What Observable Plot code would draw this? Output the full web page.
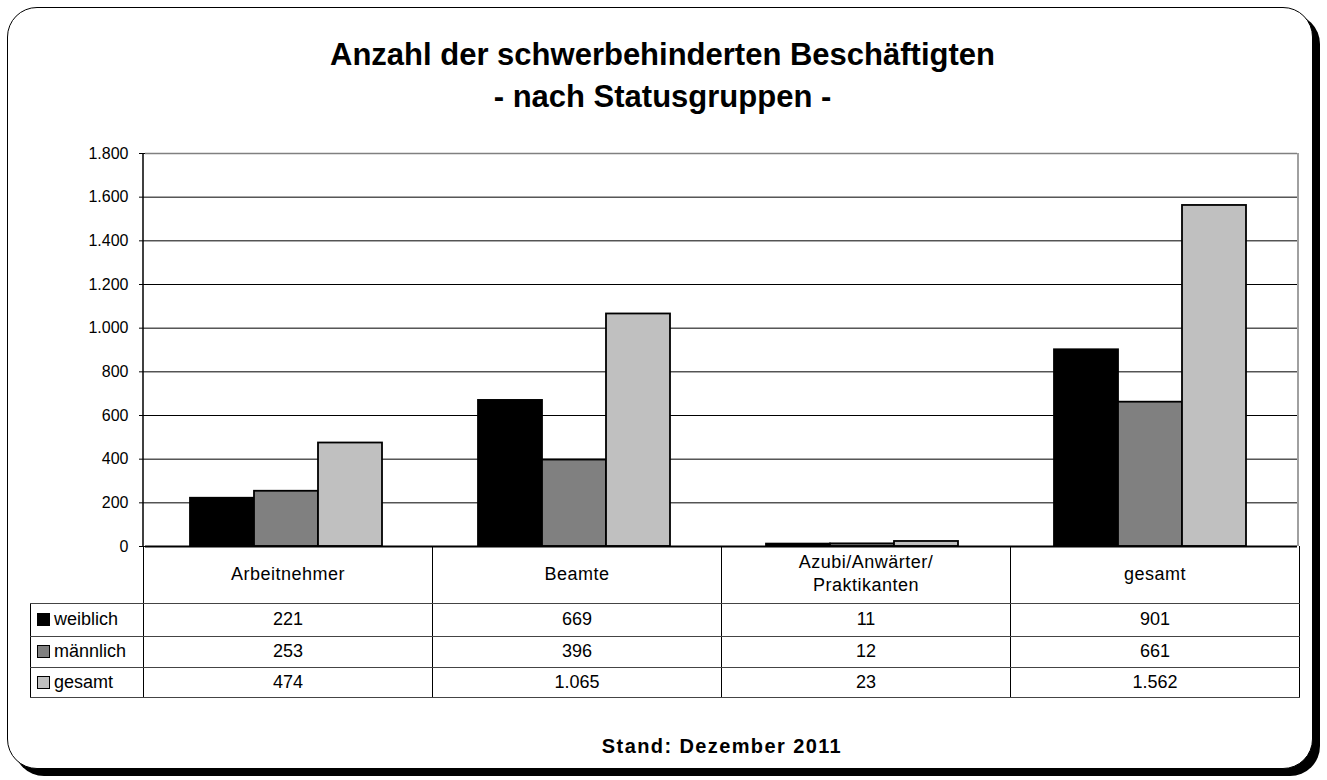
<!DOCTYPE html>
<html><head><meta charset="utf-8">
<script src="https://cdn.jsdelivr.net/npm/d3@7"></script>
<script src="https://cdn.jsdelivr.net/npm/@observablehq/plot@0.6"></script>
<style>
body{margin:0;background:#fff;font-family:'Liberation Sans',Arial,sans-serif;color:#000;}
#root{position:relative;width:1327px;height:780px;overflow:hidden;background:#fff;}
#frame{position:absolute;left:7px;top:7px;width:1306px;height:762px;box-sizing:border-box;border:1.5px solid #000;border-radius:30px;box-shadow:7px 7px 0 0 #000;background:#fff;}
#title{position:absolute;left:0;top:34px;width:1325px;text-align:center;font-weight:bold;font-size:31px;line-height:42px;}
#chart{position:absolute;left:0;top:120px;}
#caption{position:absolute;left:522px;top:734px;width:400px;text-align:center;font-weight:bold;font-size:20px;letter-spacing:1.4px;line-height:24px;}
#tbl{position:absolute;left:30px;top:546px;border-collapse:collapse;table-layout:fixed;width:1269px;font-size:18px;}
#tbl td{padding:0;text-align:center;vertical-align:middle;border-left:1px solid #000;border-right:1px solid #000;border-top:1px solid #444;border-bottom:1px solid #444;white-space:pre-line;}
#tbl tr.hdr td{border-top:none;letter-spacing:.5px;line-height:23px;}
#tbl tr.hdr td.corner{border-left:none;border-top:none;}
#tbl td.leg{text-align:left;padding-left:6px;}
.sw{display:inline-block;width:13px;height:13px;box-sizing:border-box;border:1.5px solid #000;margin-right:4px;vertical-align:-1px;}
</style>
</head><body>
<div id="root">
  <div id="frame"></div>
  <div id="title">Anzahl der schwerbehinderten Beschäftigten<br>- nach Statusgruppen -</div>
  <div id="chart"></div>
  <div id="caption">Stand: Dezember 2011</div>
</div>
<script>
// ---- data ----
const categories = ["Arbeitnehmer", "Beamte", "Azubi/Anwärter/\nPraktikanten", "gesamt"];
const seriesNames = ["weiblich", "männlich", "gesamt"];
const weiblich = [221, 669, 11, 901];
const maennlich = [253, 396, 12, 661];
const gesamt = [474, 1065, 23, 1562];
const yTicks = [0, 200, 400, 600, 800, 1000, 1200, 1400, 1600, 1800];
const seriesColors = ["#000000", "#808080", "#c0c0c0"];

const seriesValues = [weiblich, maennlich, gesamt];
const rows = categories.flatMap((c, i) => seriesNames.map((s, j) => ({category: c, series: s, value: seriesValues[j][i]})));

const de = d3.formatLocale({decimal: ",", thousands: ".", grouping: [3], currency: ["", " €"]});
const fmt = de.format(",d");

const W = 1327, H = 430, mL = 143, mR = 29, mT = 33, mB = 4;
const plot = Plot.plot({
  width: W, height: H,
  marginLeft: mL, marginRight: mR, marginTop: mT, marginBottom: mB,
  style: {fontFamily: "'Liberation Sans', Arial, sans-serif", fontSize: "16px", color: "#000", background: "transparent", overflow: "visible"},
  facet: {data: rows, x: "category"},
  fx: {domain: categories, padding: 0, axis: null, label: null},
  x: {domain: seriesNames, paddingInner: 0, paddingOuter: 0.727, align: 0.47, axis: null},
  y: {domain: [0, 1800], ticks: yTicks, tickFormat: fmt, tickSize: 6, tickPadding: 11, label: null},
  color: {domain: seriesNames, range: seriesColors},
  marks: [
    Plot.ruleY(yTicks.filter(t => t > 0 && t < 1800), {stroke: "#000", strokeWidth: 1}),
    Plot.ruleY(yTicks.filter(t => t === 1800), {stroke: "#808080", strokeWidth: 1.5}),
    Plot.barY(rows, {x: "series", y: "value", fill: "series", stroke: "#000", strokeWidth: 1.8}),
    Plot.ruleY([0], {stroke: "#000", strokeWidth: 2})
  ]
});
document.getElementById("chart").appendChild(plot);

// axis line (left) and plot-area right edge
const yr = plot.scale("y").range;
const svg = d3.select(plot);
svg.append("line").attr("x1", mL).attr("x2", mL).attr("y1", yr[0]).attr("y2", yr[1]).attr("stroke", "#000").attr("stroke-width", 1.5);
svg.append("line").attr("x1", W - mR).attr("x2", W - mR).attr("y1", yr[0]).attr("y2", yr[1]).attr("stroke", "#808080").attr("stroke-width", 1.5);

// data table below the chart
const table = d3.select("#root").append("table").attr("id", "tbl");
const cg = table.append("colgroup");
cg.append("col").style("width", "113px");
categories.forEach(() => cg.append("col").style("width", "289px"));
const hdr = table.append("tr").attr("class", "hdr").style("height", "57px");
hdr.append("td").attr("class", "corner");
categories.forEach(c => hdr.append("td").text(c));
const rowHeights = ["33px", "31px", "30px"];
seriesNames.forEach((s, j) => {
  const tr = table.append("tr").style("height", rowHeights[j]);
  const leg = tr.append("td").attr("class", "leg");
  leg.append("span").attr("class", "sw").style("background", seriesColors[j]);
  leg.append("span").text(s);
  seriesValues[j].forEach(v => tr.append("td").text(fmt(v)));
});
</script>
</body></html>
